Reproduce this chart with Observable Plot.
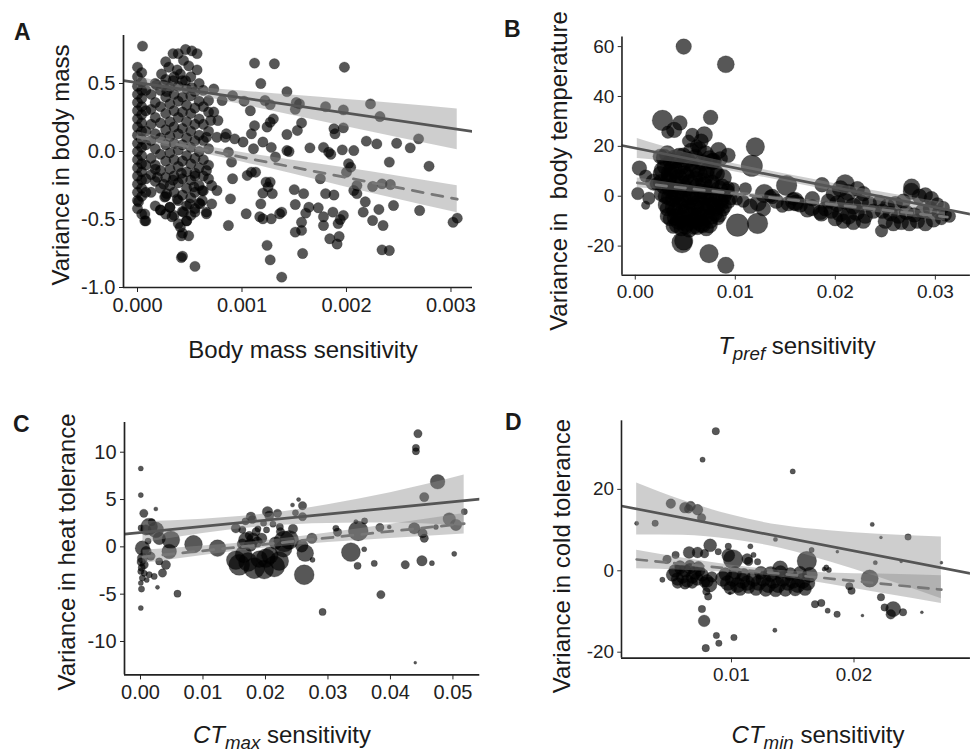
<!DOCTYPE html>
<html><head><meta charset="utf-8">
<script src="https://cdn.jsdelivr.net/npm/d3@7"></script>
<script src="https://cdn.jsdelivr.net/npm/@observablehq/plot@0.6"></script>
<style>
html,body{margin:0;padding:0;background:#fff;overflow:hidden;width:974px;height:756px}
#root{position:relative;width:974px;height:756px;overflow:hidden;font-family:"Liberation Sans",Arial,sans-serif;color:#1a1a1a}
.panel{position:absolute}
.lbl{position:absolute;white-space:nowrap;transform:translate(-50%,-50%);font-size:24px;line-height:1}
.ytitle{transform:translate(-50%,-50%) rotate(-90deg)}
.letter{position:absolute;font-weight:bold;font-size:23px;line-height:1}
sub{font-size:0.78em;vertical-align:-0.3em}
</style></head><body><div id="root"></div>
<script>
// ---------- Panel A : body mass ----------
const aX = [0.000048,0.00112,0.00131,0.00198,0.00118,0.00143,0.00223,0.00232,0.0018,0.00197,0.00152,0.00155,0.00151,0.00122,0.00127,0.00108,0.00102,0.00091,0.00081,0.00073,0.00063,0.00127,0.0013,0.00112,0.00124,0.00157,0.00153,0.00143,0.00109,0.00101,0.00111,0.0012,0.00128,0.00132,0.00143,0.00145,0.00165,0.00178,0.00183,0.00185,0.00188,0.00189,0.00197,0.00196,0.00207,0.00219,0.00229,0.00248,0.00261,0.00269,0.00241,0.00279,0.00202,0.00204,0.002,0.00175,0.0021,0.00234,0.00242,0.00225,0.00207,0.0021,0.00218,0.00216,0.00231,0.00245,0.0027,0.00235,0.00225,0.00234,0.00241,0.00302,0.00306,0.0018,0.00188,0.00187,0.00197,0.00194,0.00192,0.00178,0.00178,0.00184,0.00193,0.00191,0.00173,0.00164,0.00161,0.00151,0.00159,0.0015,0.00157,0.00157,0.00151,0.00158,0.00138,0.00136,0.00128,0.0012,0.00117,0.0012,0.00118,0.00127,0.00123,0.00125,0.00129,0.00124,0.00127,0.00138,0.00104,0.00109,0.00113,0.00105,0.00091,0.00089,0.00087,0.0009,0.00087,0.00093,0.00085,0.00084,0.00076,0.00077,0.00073,0.0007,0.00068,0.00066,0.00071,0.00076,0.00071,0.00066,0.00062,
0,0,0,0,0,0,0,0,0,0,0,0,0,0,0,0,0,0,
0.00004,0.00004,0.00004,0.00004,0.00004,0.00004,0.00004,0.00004,0.00004,0.00004,0.00004,0.00004,0.00004,0.00004,0.00004,0.00004,0.00004,
0.00008,0.00008,0.00008,0.00008,0.00008,0.00008,0.00008,0.00008,
0.00013,0.00013,0.00013,0.00013,0.00013,0.00013,0.00013,
0.00017,0.00017,0.00017,0.00017,0.00017,0.00017,0.00017,0.00017,
0.00022,0.00022,0.00022,0.00022,0.00022,0.00022,0.00022,0.00022,
0.00027,0.00027,0.00027,0.00027,0.00027,0.00027,0.00027,0.00027,0.00027,
0.00031,0.00031,0.00031,0.00031,0.00031,0.00031,0.00031,0.00031,
0.00035,0.00035,0.00035,0.00035,0.00035,0.00035,0.00035,0.00035,0.00035,
0.00039,0.00039,0.00039,0.00039,0.00039,0.00039,0.00039,0.00039,0.00039,
0.00043,0.00043,0.00043,0.00043,0.00043,0.00043,0.00043,0.00043,0.00043,0.00043,
0.00047,0.00047,0.00047,0.00047,0.00047,0.00047,0.00047,0.00047,0.00047,
0.00051,0.00051,0.00051,0.00051,0.00051,0.00051,0.00051,0.00051,0.00051,
0.00055,0.00055,0.00055,0.00055,0.00055,0.00055,0.00055,0.00055,
0.00059,0.00059,0.00059,0.00059,0.00059,0.00059,0.00059,0.00059,
0.00063,0.00063,0.00063,0.00063,0.00063,0.00063,
0.00068,0.00068,0.00068,0.00068,0.00068,
0.00023,0.00027,0.0003,0.00034,0.00039,0.00046,0.00052,0.00057,0.00044,0.00049,0.00057,0.00038,0.00041,0.00034,0.00046,0.00025,0.00052,0.00018,0.00028,
0.00017,0.00022,0.00031,0.00033,0.00028,0.00041,0.00049,0.00042,0.00047,0.00026,0.00038,0.0005,0.0006,0.00066,0.00055,0.00044,0.00062,0.00054,0.00025,0.00019,0.00034,0.00042,0.00055,0.00066,0.00042,0.00043,0.00055,0.00007,0.00007,0.00001];
const aY = [0.775,0.65,0.645,0.62,0.50,0.44,0.35,0.257,0.33,0.306,0.36,0.35,0.31,0.375,0.345,0.30,0.37,0.41,0.375,0.46,0.45,0.215,0.24,0.19,0.18,0.21,0.155,0.125,0.13,0.07,0.02,0.07,0.03,-0.04,0.007,0.0,0.027,0.03,-0.005,-0.02,0.167,0.13,0.174,0.012,0.007,0.076,0.056,0.061,0.027,0.093,-0.078,-0.108,-0.09,-0.115,-0.152,-0.2,-0.25,-0.238,-0.243,-0.257,-0.287,-0.31,-0.37,-0.446,-0.426,-0.397,-0.434,-0.544,-0.507,-0.723,-0.728,-0.52,-0.49,-0.31,-0.32,-0.446,-0.47,-0.50,-0.53,-0.48,-0.544,-0.642,-0.625,-0.68,-0.414,-0.41,-0.453,-0.39,-0.31,-0.28,-0.52,-0.58,-0.593,-0.75,-0.446,-0.458,-0.495,-0.495,-0.48,-0.306,-0.385,-0.225,-0.225,-0.26,-0.31,-0.69,-0.797,-0.924,-0.458,-0.152,-0.152,-0.176,-0.2,-0.348,-0.544,-0.078,-0.005,0.093,0.13,0.105,0.105,0.228,0.29,0.228,0.375,0.105,-0.25,-0.287,-0.385,-0.458,-0.36,
0.62,0.55,0.48,0.42,0.36,0.30,0.24,0.18,0.12,0.06,0.00,-0.06,-0.12,-0.18,-0.24,-0.30,-0.36,-0.42,
0.58,0.51,0.45,0.39,0.33,0.27,0.21,0.15,0.09,0.03,-0.03,-0.09,-0.15,-0.21,-0.27,-0.33,-0.46,
0.45,0.30,0.15,0.05,-0.10,-0.20,-0.30,-0.51,
0.42,0.31,0.2,0.08,-0.05,-0.17,-0.3,
0.5,0.36,0.25,0.13,0.02,-0.1,-0.22,-0.4,
0.45,0.33,0.21,0.1,-0.02,-0.14,-0.27,-0.43,
0.53,0.4,0.28,0.16,0.05,-0.07,-0.19,-0.33,-0.46,
0.47,0.35,0.22,0.11,-0.01,-0.13,-0.25,-0.41,
0.55,0.42,0.3,0.18,0.06,-0.06,-0.18,-0.3,-0.47,
0.48,0.37,0.25,0.13,0.01,-0.11,-0.23,-0.36,-0.53,
0.52,0.4,0.29,0.17,0.05,-0.07,-0.2,-0.32,-0.44,-0.6,
0.46,0.34,0.22,0.1,-0.03,-0.15,-0.27,-0.4,-0.51,
0.55,0.41,0.28,0.15,0.03,-0.09,-0.21,-0.34,-0.47,
0.44,0.32,0.2,0.08,-0.05,-0.18,-0.3,-0.42,
0.5,0.37,0.24,0.12,0.0,-0.12,-0.25,-0.38,
0.33,0.2,0.08,-0.06,-0.18,-0.29,
0.29,0.15,0.02,-0.1,-0.2,
0.57,0.66,0.62,0.72,0.72,0.75,0.74,0.72,0.67,0.63,0.6,0.6,0.57,0.52,0.52,0.49,0.47,0.49,0.44,
-0.13,-0.43,-0.41,-0.48,-0.31,-0.556,-0.62,-0.62,-0.51,-0.335,-0.35,-0.385,-0.385,-0.446,-0.446,-0.446,-0.287,-0.26,-0.24,-0.19,-0.21,-0.16,-0.16,-0.14,-0.78,-0.77,-0.845,-0.51,-0.46,-0.37];
const aSolidLineX = [-0.000134, 0.003206], aSolidLineY = [0.522, 0.147];
const aDashLineX = [0, 0.00306], aDashLineY = [0.108, -0.351];
const aBandX = [0, 0.0005, 0.001, 0.0015, 0.002, 0.0025, 0.00306];
const aSolidLo = [0.465, 0.42, 0.345, 0.263, 0.182, 0.101, 0.013];
const aSolidHi = [0.55, 0.48, 0.445, 0.413, 0.382, 0.351, 0.313];
const aDashLo = [0.07, 0.006, -0.077, -0.167, -0.262, -0.352, -0.451];
const aDashHi = [0.145, 0.06, -0.007, -0.067, -0.122, -0.182, -0.251];
const aXTicks = [0, 0.001, 0.002, 0.003], aYTicks = [-1.0, -0.5, 0.0, 0.5];

// ---------- Panel B : body temperature ----------
const bX = [0.00484,0.00905,0.00272,0.00446,0.00389,0.00326,0.00753,0.0069,0.0057,0.012,0.01165,0.00832,0.00927,0.00769,0.00611,0.00658,0.00532,0.00041,0.00104,0.00025,0.00104,0.00184,0.00136,0.01513,0.01867,0.01291,0.0137,0.01592,0.01022,0.01222,0.00468,0.00484,0.00737,0.00905,0.01101,0.02462,
0.0025,0.0032,0.004,0.0048,0.0056,0.0064,0.007,0.0078,0.0085,0.003,0.0038,0.0046,0.0055,0.0062,0.0072,0.0082,0.0025,0.0034,0.0043,0.0051,0.006,0.0068,0.0077,0.0087,0.0093,0.0098,
0.0021,0.0028,0.0035,0.0042,0.005,0.0058,0.0066,0.0074,0.0082,0.009,0.0096,0.0102,0.003,0.0038,0.0046,0.0054,0.0062,0.007,0.0078,0.0086,
0.0032,0.004,0.0048,0.0056,0.0064,0.0072,0.008,0.0088,0.0035,0.0043,0.0051,0.0059,0.0067,0.0075,0.0083,0.0038,0.0046,0.0054,0.0062,0.0071,
0.0029,0.0036,0.0044,0.0052,0.006,0.0067,0.0074,
0.0027,0.0034,0.0041,0.0049,0.0057,0.0064,0.0071,0.0079,0.0088,
0.0026,0.0033,0.004,0.0047,0.0055,0.0062,0.0069,0.0076,0.0084,0.0092,
0.0027,0.0034,0.0041,0.0048,0.0056,0.0063,0.007,0.0077,0.0085,0.0093,
0.0031,0.0038,0.0045,0.0052,0.006,0.0067,0.0074,0.0081,0.0089,
0.0033,0.004,0.0047,0.0055,0.0062,0.0069,0.0076,0.0084,
0.0042,0.005,0.0058,0.0066,0.0074,
0.0108,0.0115,0.01228,0.0128,0.0135,0.0141,0.0147,0.0153,0.0158,0.01608,0.0165,0.0172,0.01766,0.0185,0.0186,0.019,0.0177,
0.02098,0.0205,0.0198,0.0213,0.0222,0.0228,0.0193,0.0202,0.021,0.0218,0.0226,0.0234,0.0196,0.0205,0.0213,0.0221,0.023,0.0238,0.0208,0.0218,0.0228,0.02,
0.0244,0.0252,0.026,0.0268,0.0276,0.02763,0.0284,0.029,0.0296,0.0302,0.0308,0.0247,0.0255,0.0263,0.0271,0.0279,0.0287,0.0295,0.0303,0.031,0.025,0.0258,0.0266,0.0274,0.0282,0.029,0.0298,0.0306,0.0314];
const bY = [60.0,52.9,30.4,29.4,26.6,25.7,31.6,24.6,24.6,19.8,12.2,18.3,16.4,13.9,20.2,22.1,22.1,11.3,8.1,1.1,-3.6,5.6,-0.8,4.3,4.6,1.1,-0.1,-2.0,-11.6,-10.9,-18.6,-17.9,-23.0,-27.7,3.0,-13.9,
16,17,15,16.5,18,19,17,14,15,12,11,12,13,11,10.5,9,9,8,7,8,7,6,5.5,4,3.5,3,
5,4,3,2,3,1,2,1,0.5,0,-1,-1.5,0,-1,-2,-1.5,-3,-2.5,-3.5,-3,
-5,-6,-7,-6,-7.5,-6,-7,-5.5,-9,-10,-11,-10,-11.5,-10,-9,-12,-13,-13.5,-12.5,-13,
15.5,14,16,14.5,15.5,13.5,15,
10.5,9.5,10,9,10.5,9,8.5,10,7.5,
5.5,6,4.5,5,5.5,4,4.5,3.5,3,2,
1,-0.5,0.5,-1,0,-0.5,0,-1,-1.5,-2,
-3.5,-4.5,-4,-5,-4.5,-5,-4,-4.5,-4,
-8,-8.5,-9,-8,-9,-8.5,-8,-7.5,
-11.5,-12,-12,-11,-11.5,
-2,-4,-2.7,-5,0,-2,-4,-3,-1,-2.7,-3.5,-5.5,-4.6,-6.5,-7.1,-5,-1,
5,3,1,1.5,3,1,-2,-3,-2,-4,-2.5,-3,-6,-7,-8,-6.5,-8,-6,-10,-10.5,-10,-9,
-2,-4,-3,-2,2,3.7,0,0.5,-1,-3,-4.5,-6,-7,-8,-6.5,-7.5,-6,-5,-6.5,-7.5,-10,-11,-10.5,-11,-10,-11,-9.5,-9,-8];
const bW = [40,48,70,36,40,26,36,45,30,57,76,45,36,45,26,36,26,36,26,26,12,45,26,70,36,57,36,57,84,70,70,57,57,45,26,26,
36,45,57,36,45,36,45,45,36,45,57,45,36,45,36,36,36,45,57,45,36,45,36,36,26,26,
26,36,45,57,45,45,36,45,36,26,26,18,36,45,45,45,45,45,36,36,
36,45,57,45,45,36,36,26,36,45,45,45,45,36,26,36,36,36,36,36,
45,45,45,45,45,45,45,
45,45,45,45,45,45,45,45,45,
45,45,45,45,45,45,45,45,45,36,
45,45,45,45,45,45,45,45,45,36,
45,45,45,45,45,45,45,45,36,
45,45,45,45,45,45,45,36,
45,45,45,45,45,
26,36,45,36,26,36,26,36,26,45,36,36,45,36,36,36,36,
57,45,36,45,36,36,36,45,45,45,36,36,36,45,45,45,36,36,36,36,36,36,
26,36,36,36,45,45,36,36,36,26,26,36,36,36,36,36,36,36,26,26,36,36,36,36,36,36,36,26,26];
const bSolidLineX = [-0.00133, 0.0335], bSolidLineY = [20.34, -7.23];
const bDashLineX = [0.0002, 0.0312], bDashLineY = [5.36, -8.36];
const bSolidBandX = [0.0002, 0.005, 0.01, 0.015, 0.02, 0.025, 0.031];
const bSolidLo = [15.13, 13.13, 9.77, 5.92, 1.86, -2.4, -7.75];
const bSolidHi = [23.13, 17.53, 12.97, 8.92, 5.06, 1.4, -2.75];
const bDashBandX = [0.0002, 0.01, 0.02, 0.031];
const bDashLo = [3.36, 0.12, -4.4, -10.07];
const bDashHi = [7.36, 1.92, -2.4, -6.47];
const bXTicks = [0, 0.01, 0.02, 0.03], bYTicks = [-20, 0, 20, 40, 60];

// ---------- Panel C : heat tolerance ----------
const cX = [0.00005,0.00005,0.00245,0.00053,0.00005,0.00016,0.00005,0.00272,0.00592,0.00032,0.00085,0.00139,0.00245,0.00486,0.00459,0.00032,0.00059,0.00005,0.0003,0.00139,0.00219,0.00352,0.00406,0.00299,0.00165,0.0001,0.0002,0.0006,0.001,0.0001,0.0012,0.0018,0.0009,0.003,
0.00848,0.01233,0.01526,0.0158,0.0182,0.0214,0.02006,0.023,0.0238,0.01686,0.018,0.01526,0.01766,0.0179,0.02033,0.0206,0.02193,0.02017,0.0165,0.0172,0.019,0.0198,0.0207,0.0222,0.0229,0.0176,0.0187,0.0194,0.0216,0.0224,0.0244,0.0248,0.0163,0.0174,0.0185,0.0197,0.0163,0.0168,0.0188,0.0212,0.0223,0.0258,
0.0444,0.04408,0.04408,0.04755,0.04541,0.0253,0.02593,0.02433,0.02593,0.05182,0.04941,0.05048,0.05021,0.04381,0.04514,0.04541,0.04504,0.04664,0.04237,0.04728,0.03847,0.02914,0.04397,0.03741,0.03474,0.03367,0.0358,0.03485,0.03586,0.03447,0.03831,0.03981,0.03127,0.03154,0.02743,0.02753,0.0262,0.02636];
const cY = [8.28,5.47,4.0,3.54,-6.46,-4.46,-3.82,-4.28,-4.95,-0.14,1.79,2.14,1.79,0.74,-0.49,-1.19,-1.9,-2.6,-3.3,-2.95,-3.12,-2.77,-1.9,-1.54,-1.0,-1.6,-2.2,-2.8,-3.5,2.0,0.6,2.6,-0.5,0.9,
0.28,-0.14,-1.4,-1.9,-2.25,-2.07,-1.19,0.56,0.74,0.74,0.8,1.96,3.19,2.9,3.72,3.3,3.54,1.79,-0.8,-1.6,-1.3,-2.4,-0.9,-1.5,-0.2,0.2,0.5,0.9,0.4,1.6,1.9,3.6,0.3,1.2,1.6,2.5,1.8,2.7,1.9,2.4,2.1,0.1,
11.96,10.46,10.1,6.88,5.26,5.0,4.35,4.42,3.19,3.72,2.95,2.32,-0.74,1.96,1.44,0.91,-1.47,-1.72,-1.89,2.1,-5.05,-6.88,-12.25,-1.75,-2.0,-0.56,-0.25,1.68,2.74,2.67,2.04,2.1,1.96,1.54,0.91,-1.37,-2.95,-0.67];
const cW = [6,6,4,16,6,9,6,4,12,49,25,64,56,72,49,25,16,9,9,9,9,16,20,12,16,16,12,9,6,9,9,12,25,36,
72,64,81,100,100,100,81,100,81,49,36,20,20,16,25,20,16,9,64,81,64,81,64,81,64,36,25,25,36,16,20,9,25,16,16,9,12,12,9,9,12,36,
16,12,12,49,20,4,16,4,16,9,36,30,6,30,20,16,25,6,16,6,16,12,2,9,12,81,6,90,9,4,16,4,9,16,25,6,90,64];
const cSolidLineX = [-0.00256, 0.0543], cSolidLineY = [1.351, 5.04];
const cDashLineX = [0.0004, 0.0518], cDashLineY = [-1.07, 2.45];
const cBandX = [0.0004, 0.01, 0.02, 0.03, 0.04, 0.0518];
const cSolidLo = [0.44, 1.42, 2.16, 2.46, 2.51, 2.18];
const cSolidHi = [2.64, 2.92, 3.46, 4.46, 5.71, 7.58];
const cDashLo = [-1.77, -0.91, -0.13, 0.46, 0.89, 1.37];
const cDashHi = [-0.37, 0.09, 0.67, 1.46, 2.39, 3.53];
const cXTicks = [0, 0.01, 0.02, 0.03, 0.04, 0.05], cYTicks = [-10, -5, 0, 5, 10];

// ---------- Panel D : cold tolerance ----------
const dX = [0.00872,0.00764,0.015,0.00226,0.00377,0.00505,0.0062,0.00667,0.00723,0.0065,0.00756,0.02149,0.0222,0.02441,0.01359,0.01864,0.02174,0.02385,0.02713,0.01654,0.00826,0.00892,0.00974,0.01154,0.0118,0.01213,0.01013,0.00974,0.01128,0.0114,0.01615,0.01397,0.00654,0.00723,0.00544,0.0078,0.00474,0.00436,0.02128,0.01774,0.01795,0.01757,0.01962,0.0198,0.0222,0.0225,0.0232,0.023,0.024,0.02554,0.02069,0.01682,0.01733,0.01785,0.01862,0.01354,0.00759,0.00777,0.0081,0.00795,0.00877,0.00897,0.0102,0.0079,0.00987,
0.0052,0.0056,0.006,0.0064,0.0068,0.0072,0.0076,0.008,0.0054,0.0058,0.0062,0.0066,0.007,0.0074,0.0078,0.0056,0.0062,0.0068,0.0084,0.0082,0.0058,0.0066,0.0073,
0.0093,0.0097,0.0101,0.0105,0.0109,0.0113,0.0095,0.0103,0.011,0.0099,0.0107,0.0114,
0.0118,0.0122,0.0126,0.013,0.0134,0.0138,0.0142,0.0146,0.015,0.0154,0.0158,0.0162,0.012,0.0128,0.0136,0.0144,0.0152,0.016,0.0124,0.0132,0.014,0.0148,0.0156,0.0164];
const dY = [34.3,27.3,24.4,11.66,11.66,16.5,15.5,15.9,15.0,15.2,13.0,11.4,8.2,8.3,7.7,4.7,2.0,2.3,2.0,5.1,6.25,4.7,6.0,6.0,3.9,2.2,2.8,3.8,2.9,2.3,2.4,0.6,4.5,4.5,3.9,4.2,2.8,-2.2,-1.9,0.8,0.2,0.4,-3.8,-4.9,-6.5,-9.0,-9.4,-10.7,-10.2,-10.2,-11.0,-8.2,-7.9,-9.8,-10.7,-14.6,-9.4,-12.3,-6.3,-5.1,-15.9,-17.8,-16.4,-19.0,-5.5,
-1,-2,-1.5,-2.5,-1.5,-2,-1,-2.5,0,0.5,0,0.5,-0.5,0,-2.8,-3,-3.2,-3,-1.5,-3.4,1.2,1.3,1.0,
-2,-3,-2,-3.5,-2.5,-3,-0.8,-0.5,-1,-4.2,-4.5,-4,
-2,-3,-2,-3.5,-2.5,-3.5,-2,-3,-2.5,-3.5,-2.5,-3,-4.5,-4.7,-4.8,-4.7,-4.6,-4.5,-0.5,-0.8,-0.3,-0.8,-0.5,-1];
const dW = [12,6,6,4,9,20,25,20,25,16,16,4,2,9,4,2,4,2,2,6,36,9,9,6,6,9,81,36,25,16,81,49,30,25,12,16,16,6,64,6,6,4,12,12,12,12,49,20,12,2,2,12,12,6,9,4,12,30,12,12,9,9,9,12,2,
36,36,36,36,36,36,36,36,36,25,36,25,36,25,25,25,25,25,25,49,25,25,25,
49,49,49,49,49,49,36,36,36,36,36,36,
49,49,49,49,49,49,49,49,49,49,49,49,36,36,36,36,36,36,36,49,36,36,36,49];
const dSolidLineX = [0.001023, 0.0295], dSolidLineY = [15.92, -0.65];
const dDashLineX = [0.00226, 0.02713], dDashLineY = [2.78, -4.63];
const dBandX = [0.00226, 0.006, 0.01, 0.014, 0.018, 0.022, 0.02713];
const dSolidLo = [8.8, 8.72, 7.69, 5.57, 2.24, -1.59, -6.87];
const dSolidHi = [21.6, 17.32, 13.69, 11.17, 9.84, 9.01, 8.33];
const dDashLo = [0.48, 0.16, -0.43, -1.52, -3.31, -5.41, -8.03];
const dDashHi = [5.08, 3.16, 1.37, 0.08, -0.51, -0.81, -1.23];
const dXTicks = [0.01, 0.02], dYTicks = [-20, 0, 20];

// ---------- helpers ----------
const zip2 = (xs, ys, ws) => xs.map((x, i) => ({x, y: ys[i], w: ws ? ws[i] : 1}));
const band = (xs, lo, hi) => xs.map((x, i) => ({x, lo: lo[i], hi: hi[i]}));
const root = document.getElementById("root");
const FONT = '"Liberation Sans", Arial, sans-serif';
const ML = 70, MR = 4, MT = 12, MB = 40;

function panel(o) {
  const width = ML + o.plotW + MR, height = MT + o.plotH + MB;
  const pts = zip2(o.px, o.py, o.pw);
  const dotStyle = {x: "x", y: "y", fill: "#000", fillOpacity: 0.66, stroke: "#000", strokeOpacity: 0.35, strokeWidth: 0.6};
  const marks = [
    Plot.dot(pts, o.rConst ? {...dotStyle, r: o.rConst} : {...dotStyle, r: "w"}),
    Plot.areaY(band(o.sBandX, o.sLo, o.sHi), {x: "x", y1: "lo", y2: "hi", fill: "#8a8a8a", fillOpacity: 0.42, curve: "monotone-x"}),
    Plot.areaY(band(o.dBandX, o.dLo, o.dHi), {x: "x", y1: "lo", y2: "hi", fill: "#8a8a8a", fillOpacity: 0.42, curve: "monotone-x"}),
    Plot.line(zip2(o.sLineX, o.sLineY), {x: "x", y: "y", stroke: "#555", strokeWidth: 2.8, clip: true}),
    Plot.line(zip2(o.dLineX, o.dLineY), {x: "x", y: "y", stroke: "#777", strokeWidth: 2.8, strokeDasharray: "11,9"}),
    Plot.ruleX([o.xDomain[0]], {stroke: "#222", strokeWidth: 1.7}),
    Plot.ruleY([o.yDomain[0]], {stroke: "#222", strokeWidth: 1.7})
  ];
  const svg = Plot.plot({
    width, height, marginLeft: ML, marginRight: MR, marginTop: MT, marginBottom: MB,
    x: {domain: o.xDomain, ticks: o.xTicks, tickFormat: o.xFmt, tickSize: 5, tickPadding: 5, label: null},
    y: {domain: o.yDomain, ticks: o.yTicks, tickFormat: o.yFmt, tickSize: 4, tickPadding: 4, label: null},
    r: {type: "sqrt", domain: [0, 100], range: [0, o.rMax || 10]},
    style: {fontFamily: FONT, fontSize: "20px", color: "#222", background: "transparent", overflow: "visible"},
    marks
  });
  const wrap = document.createElement("div");
  wrap.className = "panel";
  wrap.style.left = (o.plotLeft - ML) + "px";
  wrap.style.top = (o.plotTop - MT) + "px";
  wrap.appendChild(svg);
  root.appendChild(wrap);
}
function text(html, cls, x, y) {
  const d = document.createElement("div");
  d.className = cls;
  d.innerHTML = html;
  d.style.left = x + "px";
  d.style.top = y + "px";
  root.appendChild(d);
}
const f1 = d => d.toFixed(1), f2 = d => d.toFixed(2), f3 = d => d.toFixed(3), f0 = d => d.toFixed(0);

panel({plotLeft: 123, plotTop: 35, plotW: 349, plotH: 252,
  xDomain: [-0.000134, 0.003206], yDomain: [-1.0, 0.853], xTicks: aXTicks, yTicks: aYTicks, xFmt: f3, yFmt: f1,
  px: aX, py: aY, rConst: 5.2,
  sBandX: aBandX, sLo: aSolidLo, sHi: aSolidHi, dBandX: aBandX, dLo: aDashLo, dHi: aDashHi,
  sLineX: aSolidLineX, sLineY: aSolidLineY, dLineX: aDashLineX, dLineY: aDashLineY});
panel({plotLeft: 625.3, plotTop: 37, plotW: 366.8, plotH: 251, rMax: 13,
  xDomain: [-0.00133, 0.0335], yDomain: [-31.7, 63.9], xTicks: bXTicks, yTicks: bYTicks, xFmt: f2, yFmt: f0,
  px: bX, py: bY, pw: bW,
  sBandX: bSolidBandX, sLo: bSolidLo, sHi: bSolidHi, dBandX: bDashBandX, dLo: bDashLo, dHi: bDashHi,
  sLineX: bSolidLineX, sLineY: bSolidLineY, dLineX: bDashLineX, dLineY: bDashLineY});
panel({plotLeft: 124, plotTop: 422.3, plotW: 355.3, plotH: 252.4, rMax: 10.5,
  xDomain: [-0.00256, 0.0543], yDomain: [-13.53, 13.14], xTicks: cXTicks, yTicks: cYTicks, xFmt: f2, yFmt: f0,
  px: cX, py: cY, pw: cW,
  sBandX: cBandX, sLo: cSolidLo, sHi: cSolidHi, dBandX: cBandX, dLo: cDashLo, dHi: cDashHi,
  sLineX: cSolidLineX, sLineY: cSolidLineY, dLineX: cDashLineX, dLineY: cDashLineY});
panel({plotLeft: 625.3, plotTop: 421.3, plotW: 370, plotH: 251.7, rMax: 11.5,
  xDomain: [0.001023, 0.0295], yDomain: [-21.46, 36.85], xTicks: dXTicks, yTicks: dYTicks, xFmt: f2, yFmt: f0,
  px: dX, py: dY, pw: dW,
  sBandX: dBandX, sLo: dSolidLo, sHi: dSolidHi, dBandX: dBandX, dLo: dDashLo, dHi: dDashHi,
  sLineX: dSolidLineX, sLineY: dSolidLineY, dLineX: dDashLineX, dLineY: dDashLineY});

// panel letters
text("A", "letter", 14, 21);
text("B", "letter", 504, 18);
text("C", "letter", 13, 413);
text("D", "letter", 505, 411);
// axis titles
text("Body mass sensitivity", "lbl", 303, 350);
text("<i>T<sub>pref</sub></i> sensitivity", "lbl", 797, 349);
text("<i>CT<sub>max</sub></i> sensitivity", "lbl", 282, 738);
text("<i>CT<sub>min</sub></i> sensitivity", "lbl", 818, 738);
text("Variance in body mass", "lbl ytitle", 61, 165);
text("Variance in&nbsp; body temperature", "lbl ytitle", 559, 171);
text("Variance in heat tolerance", "lbl ytitle", 67, 552);
text("Variance in cold tolerance", "lbl ytitle", 562, 556);
</script></body></html>
